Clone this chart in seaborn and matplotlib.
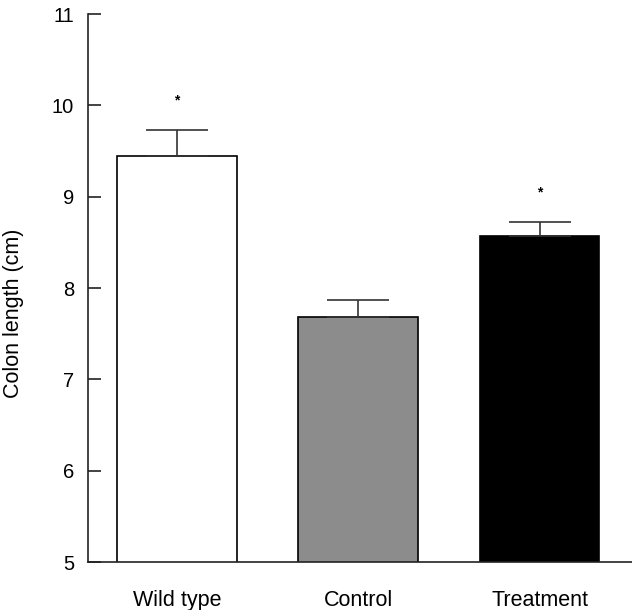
import matplotlib
matplotlib.use("Agg")
import matplotlib.pyplot as plt
import seaborn as sns
import pandas as pd

groups = ["Wild type", "Control", "Treatment"]
means = [9.45, 7.68, 8.57]
sems = [0.28, 0.19, 0.15]
bar_colors = ["#ffffff", "#8c8c8c", "#000000"]
stars = ["*", "", "*"]
star_y = [10.05, None, 9.05]
yticks = [5, 6, 7, 8, 9, 10, 11]

sns.set_style("ticks")
plt.rcParams["font.family"] = ["Liberation Sans", "DejaVu Sans"]
plt.rcParams["text.color"] = "black"
plt.rcParams["xtick.color"] = "#222222"
plt.rcParams["ytick.color"] = "#222222"
plt.rcParams["xtick.labelcolor"] = "black"
plt.rcParams["ytick.labelcolor"] = "black"
plt.rcParams["axes.labelcolor"] = "black"

df = pd.DataFrame({"group": groups, "mean": means})

fig = plt.figure(figsize=(6.32, 6.10), dpi=100)
ax = fig.add_axes([88/632, 48/610, 1 - 88/632, (562-14)/610])

sns.barplot(data=df, x="group", y="mean", hue="group", palette=bar_colors,
            edgecolor="black", linewidth=1.2, width=0.66, legend=False, ax=ax)

ax.errorbar(range(len(groups)), means, yerr=[[0]*len(sems), sems], fmt="none",
            ecolor="#333333", elinewidth=1.2, capsize=22, capthick=1.2, zorder=1)

for i, (s, y) in enumerate(zip(stars, star_y)):
    if s:
        ax.text(i, y, s, ha="center", va="center", fontsize=10, fontweight="bold")

ax.set_ylim(5, 11)
ax.set_xlim(-0.49, 2.51)
ax.set_yticks(yticks)
ax.set_yticklabels([str(t) for t in yticks], fontsize=14.5)
ax.tick_params(axis="y", direction="in", length=9, width=1.2, pad=10)
ax.tick_params(axis="x", length=0, pad=20, labelsize=15.5)
ax.set_xlabel("")
ax.set_ylabel("Colon length (cm)", fontsize=15.5)
ax.yaxis.set_label_coords(-0.118, 0.454)
for sp in ["top", "right"]:
    ax.spines[sp].set_visible(False)
for sp in ["left", "bottom"]:
    ax.spines[sp].set_linewidth(1.2)
    ax.spines[sp].set_color("#222222")

fig.savefig("out.png", dpi=100)
